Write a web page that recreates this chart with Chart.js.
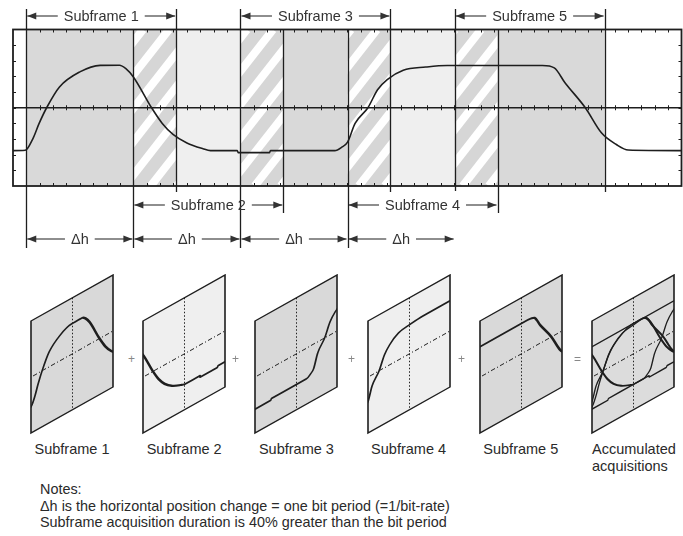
<!DOCTYPE html>
<html lang="en">
<head>
  <meta charset="UTF-8">
  <title>Subframe acquisitions</title>
  <style>
    * { margin: 0; padding: 0; box-sizing: border-box; }
    body {
      width: 683px;
      height: 536px;
      background: #fff;
      position: relative;
      overflow: hidden;
      font-family: 'Liberation Sans', Arial, sans-serif;
      color: #2a2a2a;
    }
    #main { position: absolute; left: 0; top: 0; }
    .panel { position: absolute; top: 274px; }
    .sign { position: absolute; top: 352px; font-size: 12px; color: #888; }
    .plabel { position: absolute; top: 441px; font-size: 14.5px; line-height: 17px; }
    .notes {
      position: absolute; left: 40px; top: 481px; font-size: 15px; line-height: 16.5px;
      transform: scaleX(0.96); transform-origin: 0 0; white-space: nowrap;
    }
  </style>
</head>
<body>
  <canvas id="main" width="683" height="260"></canvas>
  <div id="panels"></div>
  <div class="notes">
    Notes:<br>
    &Delta;h is the horizontal position change = one bit period (=1/bit-rate)<br>
    Subframe acquisition duration is 40% greater than the bit period
  </div>

  <script src="https://cdn.jsdelivr.net/npm/chart.js"></script>
  <script>
    // trace: x in bit periods from start of subframe 1, y in divisions
    const waveX = [-0.13, -0.01, 0.06, 0.12, 0.19, 0.31, 0.5, 0.69, 0.87, 0.93, 1.0, 1.17, 1.27, 1.37, 1.5, 1.65, 1.72,
                   1.97, 1.98, 2.27, 2.28, 2.88, 2.95, 3.0, 3.07, 3.19, 3.28, 3.37, 3.52, 3.73, 3.93, 4.82, 4.93, 5.03,
                   5.22, 5.37, 5.51, 5.62, 6.12];
    const waveY = [-2.74, -2.72, -2.0, -1.0, 0, 1.33, 2.29, 2.71, 2.72, 2.5, 1.97, 0, -1.0, -1.7, -2.25, -2.62, -2.74,
                   -2.74, -2.87, -2.87, -2.74, -2.74, -2.5, -2.2, -1.0, 0, 1.15, 1.8, 2.4, 2.6, 2.7, 2.7, 2.55, 1.6,
                   0, -1.6, -2.35, -2.7, -2.74];

    const subframeStarts = [0, 1, 2, 3, 4];
    const subframeLength = 1.4;
    const subframeLabels = ['Subframe 1', 'Subframe 2', 'Subframe 3', 'Subframe 4', 'Subframe 5'];
    const deltaStarts = [0, 1, 2, 3];
    const deltaLabel = '\u0394h';
    const accumulatedLabel = ['Accumulated', 'acquisitions'];

    const INK = '#1e1e1e';
    const DARK = '#d9d9d9';
    const LIGHT = '#efefef';
    const FONT = "'Liberation Sans', Arial, sans-serif";
    const SKEW = 0.561;   // rise of the panel tops per pixel

    const points = waveX.map((x, i) => ({ x: x, y: waveY[i] }));

    function arrowHead(ctx, x, y, dir) {
      ctx.beginPath();
      ctx.moveTo(x, y);
      ctx.lineTo(x - dir * 9, y - 3.5);
      ctx.lineTo(x - dir * 9, y + 3.5);
      ctx.closePath();
      ctx.fill();
    }

    function bracket(ctx, x0, x1, y, text) {
      const tw = ctx.measureText(text).width;
      const cx = (x0 + x1) / 2;
      ctx.beginPath();
      ctx.moveTo(x0 + 1, y); ctx.lineTo(cx - tw / 2 - 6, y);
      ctx.moveTo(cx + tw / 2 + 6, y); ctx.lineTo(x1 - 1, y);
      ctx.stroke();
      arrowHead(ctx, x0 + 1, y, -1);
      arrowHead(ctx, x1 - 1, y, 1);
      ctx.fillText(text, cx, y + 1);
    }

    function hatch(ctx, x0, x1, top, bottom, origin) {
      ctx.save();
      ctx.beginPath();
      ctx.rect(x0, top, x1 - x0, bottom - top);
      ctx.clip();
      ctx.fillStyle = '#d6d6d6';
      ctx.fillRect(x0, top, x1 - x0, bottom - top);
      ctx.strokeStyle = '#fff';
      ctx.lineWidth = 8;
      const run = (bottom - top) / Math.tan(52 * Math.PI / 180);
      for (let s = origin - run; s < x1 + 30; s += 26) {
        if (s + run < x0 - 10) continue;
        ctx.beginPath();
        ctx.moveTo(s, bottom);
        ctx.lineTo(s + run, top);
        ctx.stroke();
      }
      ctx.restore();
    }

    const mainPlugin = {
      id: 'mainPlugin',
      beforeDatasetsDraw(chart) {
        const { ctx, chartArea: a, scales: { x, y } } = chart;
        ctx.save();
        // subframe shading
        subframeStarts.forEach((s, i) => {
          const x0 = x.getPixelForValue(s), x1 = x.getPixelForValue(s + subframeLength);
          ctx.fillStyle = i % 2 === 0 ? DARK : LIGHT;
          ctx.fillRect(x0, a.top, x1 - x0, a.bottom - a.top);
        });
        // overlaps between neighbouring subframes
        subframeStarts.slice(1).forEach(s => {
          hatch(ctx, x.getPixelForValue(s), x.getPixelForValue(s - 1 + subframeLength), a.top, a.bottom, a.left);
        });

        // graticule ticks
        ctx.strokeStyle = INK;
        ctx.lineWidth = 1;
        const yc = y.getPixelForValue(0);
        ctx.beginPath();
        for (let i = 1; i < 50; i++) {
          const px = Math.round(a.left + (a.right - a.left) * i / 50) + 0.5;
          ctx.moveTo(px, a.top); ctx.lineTo(px, a.top + 3);
          ctx.moveTo(px, a.bottom); ctx.lineTo(px, a.bottom - 3);
          ctx.moveTo(px, yc - 2.5); ctx.lineTo(px, yc + 2.5);
        }
        for (let i = 1; i < 10; i++) {
          const py = Math.round(a.top + (a.bottom - a.top) * i / 10) + 0.5;
          ctx.moveTo(a.left, py); ctx.lineTo(a.left + 3, py);
          ctx.moveTo(a.right, py); ctx.lineTo(a.right - 3, py);
        }
        ctx.stroke();

        // center line
        ctx.lineWidth = 1.6;
        ctx.beginPath();
        ctx.moveTo(a.left, yc); ctx.lineTo(a.right, yc);
        ctx.stroke();

        // subframe boundaries
        ctx.lineWidth = 1.3;
        ctx.beginPath();
        subframeStarts.forEach((s, i) => {
          const x0 = Math.round(x.getPixelForValue(s)) + 0.5;
          const x1 = Math.round(x.getPixelForValue(s + subframeLength)) + 0.5;
          const above = i % 2 === 0;
          ctx.moveTo(x0, above ? 9 : a.top);
          ctx.lineTo(x0, above ? a.bottom + (deltaStarts.includes(s) ? 62 : 5) : a.bottom + 62);
          ctx.moveTo(x1, above ? 9 : a.top);
          ctx.lineTo(x1, above ? a.bottom + 6 : a.bottom + 27);
        });
        ctx.stroke();

        // frame
        ctx.lineWidth = 1.8;
        ctx.strokeRect(a.left, a.top, a.right - a.left, a.bottom - a.top);
        ctx.restore();
      },
      afterDraw(chart) {
        const { ctx, chartArea: a, scales: { x } } = chart;
        ctx.save();
        ctx.strokeStyle = INK;
        ctx.fillStyle = '#333';
        ctx.lineWidth = 1.2;
        ctx.font = '14.5px ' + FONT;
        ctx.textAlign = 'center';
        ctx.textBaseline = 'middle';
        subframeStarts.forEach((s, i) => {
          const x0 = x.getPixelForValue(s), x1 = x.getPixelForValue(s + subframeLength);
          bracket(ctx, x0, x1, i % 2 === 0 ? 16 : a.bottom + 19, subframeLabels[i]);
        });
        deltaStarts.forEach(s => {
          bracket(ctx, x.getPixelForValue(s), x.getPixelForValue(s + 1), a.bottom + 53, deltaLabel);
        });
        ctx.restore();
      }
    };

    new Chart(document.getElementById('main'), {
      type: 'line',
      data: {
        datasets: [{
          data: points,
          borderColor: INK,
          borderWidth: 1.6,
          pointRadius: 0,
          cubicInterpolationMode: 'monotone'
        }]
      },
      options: {
        responsive: false,
        animation: false,
        events: [],
        layout: { padding: { left: 13, right: 1.5, top: 29.5, bottom: 74 } },
        plugins: { legend: { display: false }, tooltip: { enabled: false } },
        scales: {
          x: { type: 'linear', display: false, min: -0.124, max: 6.118 },
          y: { display: false, min: -5, max: 5 }
        }
      },
      plugins: [mainPlugin]
    });

    // small skewed panels: the whole chart is drawn through a skew transform
    const panelPlugin = {
      id: 'panelPlugin',
      beforeDraw(chart) {
        const { ctx, chartArea: a } = chart;
        ctx.save();
        ctx.transform(1, -SKEW, 0, 1, 0, SKEW * a.right);
      },
      beforeDatasetsDraw(chart, args, opts) {
        const { ctx, chartArea: a, scales: { x, y } } = chart;
        ctx.save();
        ctx.fillStyle = opts.fill;
        ctx.fillRect(a.left, a.top, a.right - a.left, a.bottom - a.top);
        ctx.strokeStyle = '#222';
        ctx.lineWidth = 1;
        const xc = Math.round(x.getPixelForValue((x.min + x.max) / 2)) + 0.5;
        ctx.setLineDash([1.5, 2]);
        ctx.beginPath(); ctx.moveTo(xc, a.top); ctx.lineTo(xc, a.bottom); ctx.stroke();
        ctx.setLineDash([4, 2, 1, 2]);
        const yc = y.getPixelForValue(0);
        ctx.beginPath(); ctx.moveTo(a.left + 2, yc); ctx.lineTo(a.right, yc); ctx.stroke();
        ctx.restore();
      },
      afterDraw(chart) {
        const { ctx, chartArea: a } = chart;
        ctx.strokeStyle = INK;
        ctx.lineWidth = 1.6;
        ctx.strokeRect(a.left, a.top, a.right - a.left, a.bottom - a.top);
        ctx.restore();
      }
    };

    const panelsEl = document.getElementById('panels');
    const plusX = [132, 236, 352, 462];

    function makePanel(i, datasets, fill, xmin) {
      const left = 31 + i * 112.2;
      const cv = document.createElement('canvas');
      cv.className = 'panel';
      cv.width = 84; cv.height = 162;
      cv.style.left = (left - 1) + 'px';
      panelsEl.appendChild(cv);
      new Chart(cv, {
        type: 'line',
        data: { datasets: datasets },
        options: {
          responsive: false,
          animation: false,
          events: [],
          layout: { padding: { left: 1, right: 1, top: 1, bottom: 49 } },
          plugins: { legend: { display: false }, tooltip: { enabled: false }, panelPlugin: { fill: fill } },
          scales: {
            x: { type: 'linear', display: false, min: xmin, max: xmin + subframeLength },
            y: { display: false, min: -5, max: 5 }
          }
        },
        plugins: [panelPlugin]
      });
      return left;
    }

    function trace(shift, width) {
      return {
        data: points.map(p => ({ x: p.x - shift, y: p.y })),
        borderColor: INK,
        borderWidth: width,
        pointRadius: 0,
        cubicInterpolationMode: 'monotone'
      };
    }

    subframeStarts.forEach((s, i) => {
      const left = makePanel(i, [trace(0, 2)], i % 2 === 0 ? DARK : LIGHT, s);
      const lab = document.createElement('div');
      lab.className = 'plabel';
      lab.style.left = left + 'px';
      lab.style.width = '82px';
      lab.style.textAlign = 'center';
      lab.textContent = subframeLabels[i];
      panelsEl.appendChild(lab);
    });
    const accLeft = makePanel(5, subframeStarts.map(s => trace(s, 1.6)), '#dcdcdc', 0);
    const acc = document.createElement('div');
    acc.className = 'plabel';
    acc.style.left = accLeft + 'px';
    acc.innerHTML = accumulatedLabel.join('<br>');
    panelsEl.appendChild(acc);

    plusX.forEach(px => {
      const s = document.createElement('div');
      s.className = 'sign';
      s.style.left = (px - 4) + 'px';
      s.textContent = '+';
      panelsEl.appendChild(s);
    });
    const eq = document.createElement('div');
    eq.className = 'sign';
    eq.style.left = '574px';
    eq.textContent = '=';
    panelsEl.appendChild(eq);
  </script>
</body>
</html>
